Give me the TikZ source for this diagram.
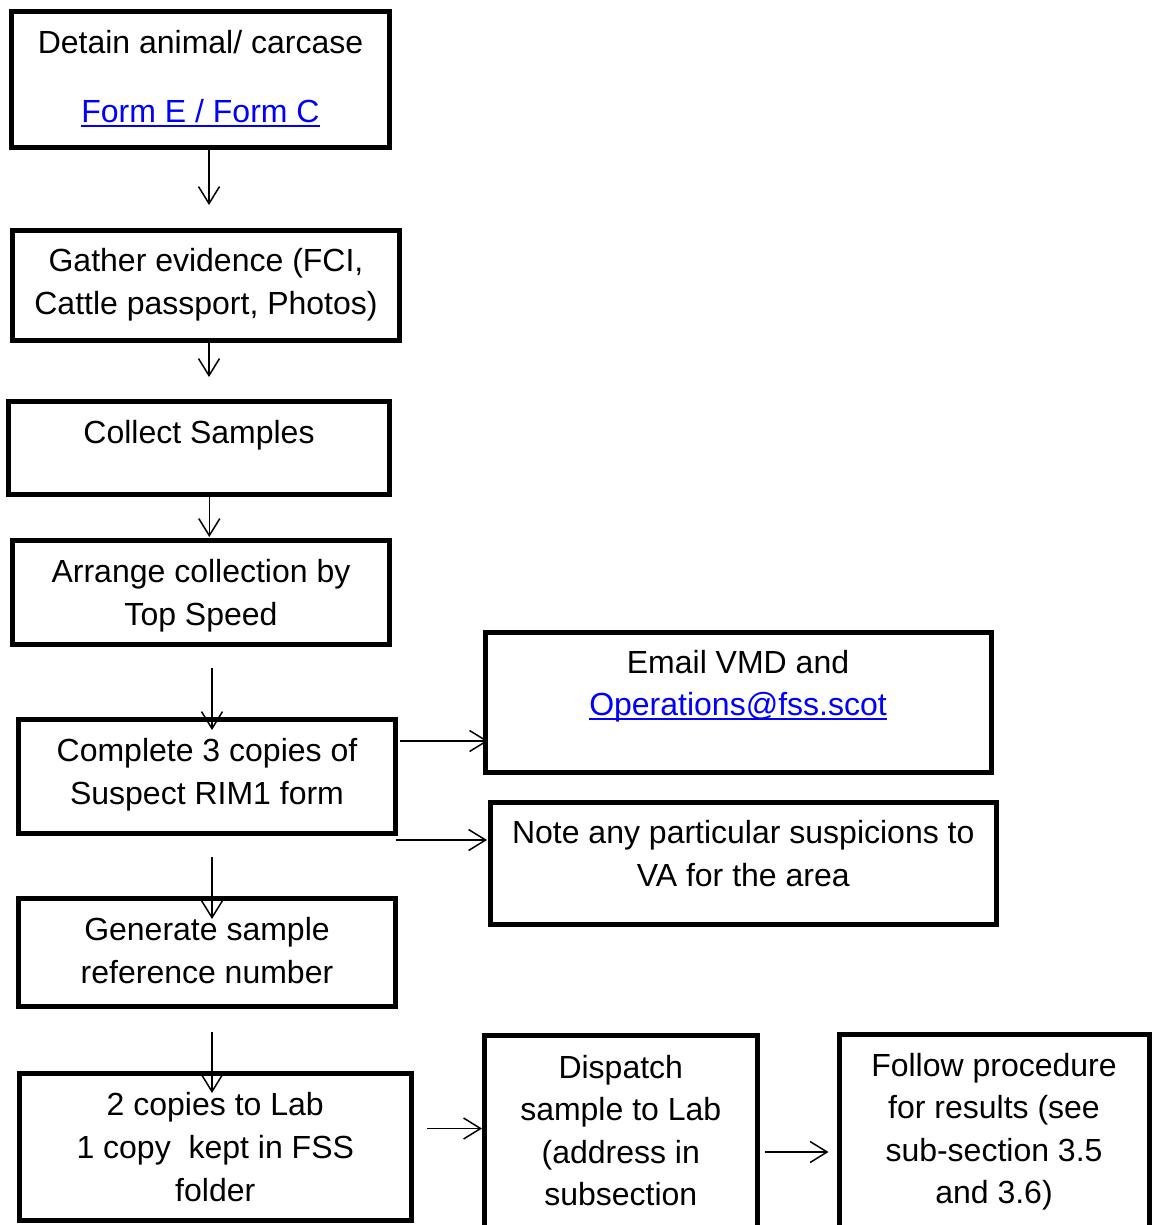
\documentclass[tikz,border=0pt]{standalone}
\usepackage{fontspec}
\setmainfont{Liberation Sans}
\usetikzlibrary{arrows.meta,calc}
\definecolor{linkblue}{RGB}{0,0,255}
\newcommand\ulink[1]{{\color{linkblue}\setbox0\hbox{#1}\rlap{\rule[-4.6pt]{\wd0}{2.3pt}}\box0}}
\tikzset{
  box/.style={draw, rectangle, line width=5pt, inner sep=0pt, outer sep=0pt, anchor=north west},
  txt/.style={anchor=north, inner sep=0pt, align=center, font=\fontsize{32}{43}\selectfont},
  txtb/.style={txt, font=\fontsize{32}{42.3}\selectfont},
  flow/.style={line width=1.5pt, -{Straight Barb[length=17pt,width=21pt,line width=1.5pt]}},
}
\begin{document}
\begin{tikzpicture}[x=1pt,y=-1pt]
\useasboundingbox (0,0) rectangle (1152,1225);
\clip (0,0) rectangle (1152,1225);
\fill[white] (0,0) rectangle (1152,1225);
% boxes
\node[box, minimum width=378pt, minimum height=136pt] (b1) at (11.5,12) {};
\node[box, minimum width=387pt, minimum height=110.5pt] (b2) at (12.5,230) {};
\node[box, minimum width=381pt, minimum height=93pt] (b3) at (8.5,401) {};
\node[box, minimum width=377pt, minimum height=103.5pt] (b4) at (12.5,540.5) {};
\node[box, minimum width=377pt, minimum height=114pt] (b5) at (18.5,719.5) {};
\node[box, minimum width=377pt, minimum height=108pt] (b6) at (18.5,898.5) {};
\node[box, minimum width=391.5pt, minimum height=147.5pt] (b7) at (19.5,1073) {};
\node[box, minimum width=506pt, minimum height=140pt] (bE) at (485,632) {};
\node[box, minimum width=505.5pt, minimum height=122pt] (bN) at (490.5,802) {};
\node[box, minimum width=273.5pt, minimum height=224.5pt] (b8) at (484,1035.5) {};
\node[box, minimum width=310pt, minimum height=226pt] (b9) at (839,1034) {};
% texts
\node[txt] (t1) at ($(b1.north)+(0,18)$) {Detain animal/ carcase\\[26pt]\ulink{Form E / Form C}};
\node[txt] (t2) at ($(b2.north)+(0,18)$) {Gather evidence (FCI,\\Cattle passport, Photos)};
\node[txt] (t3) at ($(b3.north)+(0,19)$) {Collect Samples};
\node[txt] (t4) at ($(b4.north)+(0,18.5)$) {Arrange collection by\\Top Speed};
\node[txt] (t5) at ($(b5.north)+(0,18.5)$) {Complete 3 copies of\\Suspect RIM1 form};
\node[txt] (t6) at ($(b6.north)+(0,19)$) {Generate sample\\reference number};
\node[txt] (t7) at ($(b7.north)+(0,19)$) {2 copies to Lab\\1 copy~ kept in FSS\\folder};
\node[txtb] (tE) at ($(bE.north)+(0,18)$) {Email VMD and\\\ulink{Operations@fss.scot}};
\node[txt] (tN) at ($(bN.north)+(0,18)$) {Note any particular suspicions to\\VA for the area};
\node[txtb] (t8) at ($(b8.north)+(0,19.5)$) {Dispatch\\sample to Lab\\(address in\\subsection};
\node[txtb] (t9) at ($(b9.north)+(0,19)$) {Follow procedure\\for results (see\\sub-section 3.5\\and 3.6)};
% connector end points
\coordinate (a1s) at (209,150.5); \coordinate (a1e) at (209,205);
\coordinate (a2s) at (209,343); \coordinate (a2e) at (209,377);
\coordinate (a3s) at (209.3,496.5); \coordinate (a3e) at (209.3,537);
\coordinate (a4s) at (212,668); \coordinate (a4e) at (212,730);
\coordinate (a5s) at (212,857); \coordinate (a5e) at (212,919);
\coordinate (a6s) at (212,1032); \coordinate (a6e) at (212,1093);
\coordinate (aEs) at (400,741); \coordinate (aEe) at (488,741);
\coordinate (aNs) at (396,840); \coordinate (aNe) at (487,840);
\coordinate (a7s) at (427,1128.5); \coordinate (a7e) at (482,1128.5);
\coordinate (a8s) at (765,1152); \coordinate (a8e) at (828.5,1152);
% connectors
\draw[flow] (a1s) -- (a1e);
\draw[flow] (a2s) -- (a2e);
\draw[flow] (a3s) -- (a3e);
\draw[flow] (a4s) -- (a4e);
\draw[flow] (a5s) -- (a5e);
\draw[flow] (a6s) -- (a6e);
\draw[flow] (aEs) -- (aEe);
\draw[flow] (aNs) -- (aNe);
\draw[flow] (a7s) -- (a7e);
\draw[flow] (a8s) -- (a8e);
\end{tikzpicture}
\end{document}
